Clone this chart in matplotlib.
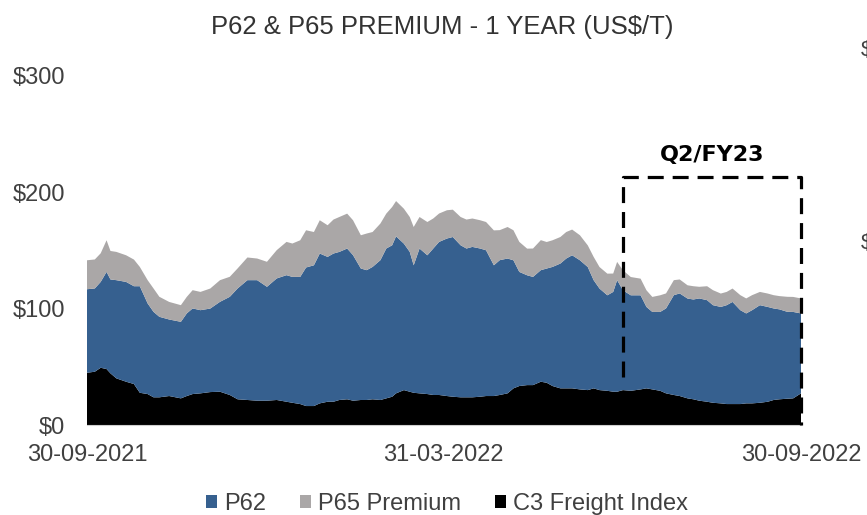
import numpy as np
import pandas as pd
import matplotlib
matplotlib.use("Agg")
import matplotlib.pyplot as plt
from matplotlib.patches import Patch

plt.rcParams["font.family"] = ["Liberation Sans", "DejaVu Sans"]

# ---------- data ----------
start_date = "2021-09-30"
day_offset = [0, 4, 7, 10, 12, 15, 20, 24, 27, 31, 34, 37, 42, 48, 51, 54, 58, 63, 68, 73,
              77, 82, 87, 92, 97, 102, 105, 109, 112, 116, 119, 123, 126, 129, 133, 136, 140,
              143, 146, 150, 153, 156, 158, 162, 165, 167, 170, 174, 177, 180, 184, 187, 191,
              194, 197, 201, 204, 208, 211, 215, 218, 221, 225, 228, 232, 235, 238, 242, 245,
              248, 252, 256, 259, 262, 266, 269, 271, 274, 278, 283, 286, 289, 293, 296, 300,
              303, 307, 310, 313, 317, 320, 324, 327, 330, 334, 337, 340, 344, 348, 351, 354,
              358, 361, 365]

c3_freight = [44.9, 45.8, 49.2, 48.1, 44.4, 40.1, 37.2, 35.2, 27.7, 26.6, 23.8, 23.8, 24.9, 22.9,
              24.9, 26.6, 27.2, 28.3, 28.6, 25.8, 22.1, 21.5, 20.9, 20.9, 21.5, 20.0, 19.1, 18.0,
              16.3, 16.3, 18.6, 20.0, 20.0, 21.5, 22.1, 20.9, 21.5, 21.5, 22.1, 21.5, 22.9, 24.3,
              27.2, 30.0, 28.6, 27.7, 27.2, 26.6, 25.8, 25.8, 24.9, 24.3, 23.8, 23.8, 23.8, 24.3,
              24.9, 24.9, 25.8, 27.2, 31.5, 33.5, 34.3, 34.3, 37.2, 36.3, 33.5, 31.5, 31.5, 31.5,
              30.6, 30.0, 31.5, 30.0, 29.4, 28.6, 28.6, 30.0, 29.4, 30.6, 31.5, 30.6, 29.4, 27.2,
              25.8, 24.9, 22.9, 22.1, 20.9, 20.0, 19.1, 18.6, 18.0, 18.0, 18.0, 18.6, 18.6, 19.1,
              20.0, 21.5, 22.1, 22.6, 22.9, 27.2]

p62 = [71.8, 71.6, 73.8, 83.5, 80.7, 84.4, 85.8, 84.1, 91.6, 77.9, 73.5, 69.2, 65.8, 65.8, 71.0,
       73.6, 71.5, 71.8, 77.3, 84.4, 95.3, 103.0, 103.6, 97.9, 104.5, 108.8, 108.2, 109.3, 119.1,
       121.0, 128.8, 124.5, 127.4, 127.3, 129.6, 125.1, 113.0, 111.6, 113.8, 120.2, 128.8, 130.2,
       135.0, 125.9, 120.2, 109.6, 124.5, 119.3, 125.9, 131.6, 135.4, 137.3, 130.7, 127.9, 129.3,
       127.4, 125.3, 112.4, 115.9, 115.9, 110.1, 98.1, 94.4, 93.0, 95.9, 98.2, 102.4, 107.3, 111.6,
       114.4, 111.0, 105.8, 93.0, 87.3, 82.1, 85.8, 95.9, 85.8, 82.1, 80.9, 70.0, 66.6, 67.8, 73.0,
       85.8, 88.2, 85.8, 85.8, 87.9, 87.3, 83.9, 82.9, 85.0, 87.8, 80.7, 77.3, 80.1, 83.9, 81.5,
       78.7, 77.3, 74.7, 74.3, 68.7]

p65_premium = [24.9, 24.9, 24.6, 27.2, 24.5, 24.3, 22.9, 22.9, 16.6, 20.0, 20.1, 17.2, 15.1, 14.3,
               14.2, 15.7, 15.7, 17.2, 18.6, 17.2, 17.2, 19.5, 18.6, 21.5, 24.3, 28.6, 28.7, 31.5,
               32.0, 28.6, 28.6, 27.2, 29.2, 30.0, 30.0, 30.0, 28.6, 31.5, 30.0, 31.5, 30.0, 32.9,
               30.3, 30.0, 30.0, 32.9, 27.1, 28.6, 25.8, 24.4, 24.3, 23.5, 24.3, 24.9, 24.4, 24.3,
               24.3, 30.0, 25.8, 27.1, 25.8, 25.8, 22.9, 24.4, 25.8, 22.8, 22.9, 22.8, 22.8, 22.1,
               21.5, 18.6, 20.0, 18.5, 18.6, 15.8, 15.7, 17.2, 15.7, 14.3, 14.3, 12.9, 14.3, 12.9,
               12.9, 12.0, 11.4, 11.4, 10.0, 12.0, 12.9, 11.5, 11.4, 11.5, 12.9, 12.9, 12.9, 11.4,
               11.5, 11.4, 11.4, 12.9, 12.9, 12.9]

series_labels = ["P62", "P65 Premium", "C3 Freight Index"]
series_colors = ["#36608F", "#AAA7A7", "#000000"]

y_ticks = [0, 100, 200, 300]
y_tick_labels = ["$0", "$100", "$200", "$300"]
x_tick_dates = ["2021-09-30", "2022-03-31", "2022-09-30"]
x_tick_labels = ["30-09-2021", "31-03-2022", "30-09-2022"]

# Q2/FY23 box
box_start, box_end = "2022-07-01", "2022-09-30"
box_top, box_left_bottom = 213.5, 41

dates = pd.Timestamp(start_date) + pd.to_timedelta(day_offset, unit="D")

# ---------- figure ----------
W, H = 867, 515
fig = plt.figure(figsize=(W / 100, H / 100), dpi=100)
ax = fig.add_axes([87 / W, 1 - 425 / H, (801 - 87) / W, (425 - 76) / H])

ax.stackplot(dates, c3_freight, p62, p65_premium,
             colors=[series_colors[2], series_colors[0], series_colors[1]],
             linewidth=0)

ax.set_xlim(pd.Timestamp("2021-09-30"), pd.Timestamp("2022-09-30"))
ax.set_ylim(0, 300)
ax.set_yticks(y_ticks)
ax.set_yticklabels(y_tick_labels)
ax.set_xticks(pd.to_datetime(x_tick_dates))
ax.set_xticklabels(x_tick_labels)
ax.tick_params(axis="y", length=0, pad=16, labelsize=17, labelcolor="#404040")
ax.tick_params(axis="x", length=0, pad=14, labelsize=17, labelcolor="#404040")
for s in ["top", "right", "left"]:
    ax.spines[s].set_visible(False)
ax.spines["bottom"].set_color("#D0D0D0")
ax.spines["bottom"].set_linewidth(0.8)

# dashed quarter box
bx0, bx1 = pd.Timestamp(box_start), pd.Timestamp(box_end)
dash = (0, (5, 2.8))
ax.plot([bx0, bx0, bx1, bx1], [box_left_bottom, box_top, box_top, 0],
        color="black", lw=2.3, linestyle=dash, clip_on=False, zorder=5)
ax.text(bx0 + (bx1 - bx0) / 2, box_top + 19, "Q2/FY23", ha="center", va="center",
        fontsize=16, fontweight="bold", family="DejaVu Sans", color="black")

# title
fig.text(442 / W, 1 - 27 / H, "P62 & P65 PREMIUM - 1 YEAR (US$/T)", ha="center", va="center",
         fontsize=18.5, color="#333333")

# partial labels of the neighbouring chart at the right edge
fig.text(861 / W, 1 - 50 / H, "$", ha="left", va="center", fontsize=16, color="#404040")
fig.text(861 / W, 1 - 243 / H, "$", ha="left", va="center", fontsize=16, color="#404040")

# legend
handles = [Patch(facecolor=c, edgecolor="none", label=l) for c, l in zip(series_colors, series_labels)]
fig.legend(handles=handles, loc="center", bbox_to_anchor=(447 / W, 1 - 504 / H), ncol=3,
           frameon=False, fontsize=17, handlelength=0.5, handleheight=0.5, handletextpad=0.3,
           columnspacing=1.4, labelcolor="#404040")

plt.savefig("out.png", dpi=100)
